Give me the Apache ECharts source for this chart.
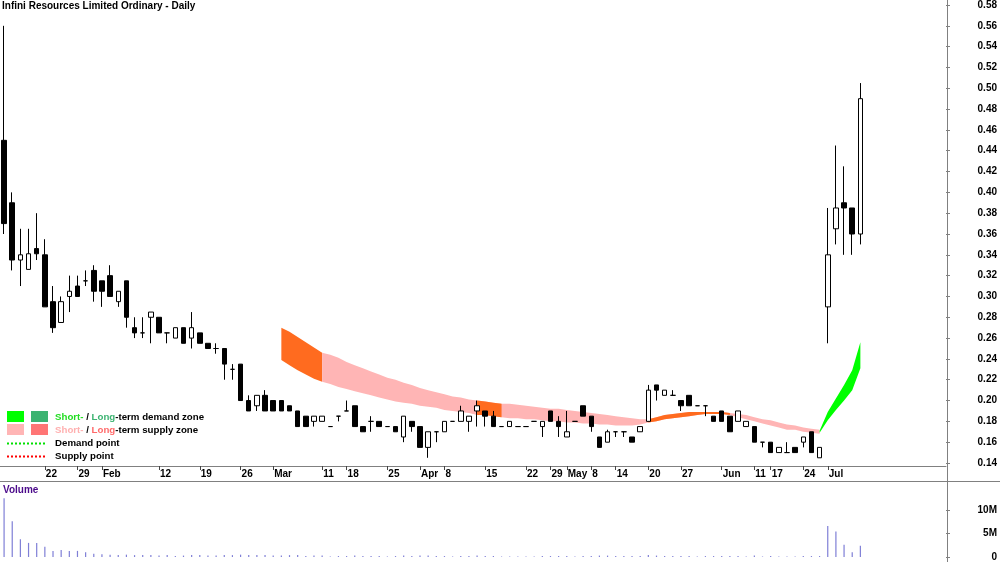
<!DOCTYPE html>
<html><head><meta charset="utf-8">
<script src="https://cdn.jsdelivr.net/npm/echarts@6/dist/echarts.min.js"></script>
<style>html,body{margin:0;padding:0;background:#fff}#c{width:1000px;height:562px}</style>
</head><body><div id="c"></div>
<script>
// ---------- data ----------
const title = 'Infini Resources Limited Ordinary - Daily';
const dates = [
 '01-15','01-16','01-17','01-18','01-19','01-22','01-23','01-24','01-25','01-29',
 '01-30','01-31','02-01','02-02','02-05','02-06','02-07','02-08','02-09','02-12',
 '02-13','02-14','02-15','02-16','02-19','02-20','02-21','02-22','02-23','02-26',
 '02-27','02-28','02-29','03-01','03-04','03-05','03-06','03-07','03-08','03-11',
 '03-12','03-13','03-18','03-19','03-20','03-21','03-22','03-25','03-26','03-27',
 '03-28','04-02','04-03','04-04','04-08','04-09','04-10','04-11','04-12','04-15',
 '04-16','04-17','04-18','04-19','04-22','04-23','04-24','04-29','04-30','05-01',
 '05-02','05-03','05-08','05-09','05-10','05-14','05-15','05-16','05-17','05-20',
 '05-21','05-22','05-23','05-27','05-28','05-29','05-30','05-31','06-03','06-04',
 '06-05','06-06','06-11','06-12','06-17','06-18','06-19','06-20','06-24','06-25',
 '06-26','07-01','07-02','07-03','07-04','07-05'
];
const blankSlots = ['07-08','07-09','07-10','07-11','07-12','07-15','07-16','07-17','07-18','07-19'];
const open = [
 0.45,0.39,0.335,0.326,0.346,0.34,0.295,0.275,0.30,0.31,
 0.315,0.325,0.315,0.32,0.295,0.315,0.27,0.265,0.28,0.28,
 0.265,0.26,0.27,0.26,0.265,0.255,0.25,0.25,0.23,0.235,
 0.20,0.195,0.205,0.20,0.20,0.195,0.19,0.185,0.18,0.18,
 0.175,0.185,0.19,0.195,0.175,0.18,0.18,0.175,0.175,0.165,
 0.18,0.175,0.155,0.17,0.17,0.18,0.18,0.18,0.19,0.19,
 0.185,0.175,0.175,0.175,0.175,0.18,0.175,0.19,0.18,0.165,
 0.18,0.195,0.185,0.165,0.16,0.17,0.17,0.165,0.17,0.18,
 0.215,0.205,0.205,0.20,0.205,0.195,0.195,0.185,0.19,0.185,
 0.18,0.175,0.175,0.16,0.16,0.15,0.15,0.155,0.16,0.17,
 0.145,0.29,0.365,0.39,0.385,0.36
];
const close = [
 0.37,0.335,0.34,0.341,0.341,0.29,0.27,0.295,0.305,0.30,
 0.315,0.305,0.305,0.30,0.305,0.28,0.265,0.265,0.285,0.265,
 0.265,0.27,0.255,0.27,0.255,0.25,0.25,0.235,0.23,0.20,
 0.19,0.205,0.19,0.19,0.19,0.19,0.175,0.175,0.185,0.185,
 0.175,0.185,0.19,0.175,0.17,0.18,0.175,0.175,0.17,0.185,
 0.175,0.155,0.17,0.17,0.18,0.18,0.19,0.185,0.195,0.185,
 0.175,0.175,0.18,0.175,0.175,0.18,0.18,0.18,0.175,0.17,
 0.18,0.185,0.175,0.155,0.17,0.17,0.17,0.16,0.175,0.21,
 0.21,0.21,0.205,0.195,0.195,0.195,0.195,0.18,0.18,0.17,
 0.19,0.18,0.16,0.16,0.15,0.155,0.15,0.15,0.165,0.15,
 0.155,0.34,0.385,0.385,0.36,0.49
];
const high = [
 0.56,0.40,0.365,0.365,0.38,0.355,0.31,0.30,0.32,0.32,
 0.325,0.33,0.315,0.33,0.305,0.315,0.28,0.28,0.285,0.28,
 0.265,0.27,0.27,0.285,0.265,0.255,0.255,0.25,0.235,0.235,
 0.205,0.205,0.21,0.20,0.20,0.195,0.19,0.185,0.185,0.185,
 0.175,0.185,0.20,0.195,0.175,0.185,0.18,0.175,0.175,0.185,
 0.18,0.175,0.17,0.17,0.18,0.18,0.195,0.185,0.20,0.19,
 0.19,0.175,0.18,0.175,0.175,0.18,0.18,0.19,0.185,0.19,
 0.18,0.195,0.185,0.165,0.172,0.17,0.17,0.165,0.175,0.215,
 0.215,0.21,0.21,0.20,0.205,0.195,0.195,0.185,0.19,0.185,
 0.19,0.18,0.175,0.16,0.16,0.155,0.16,0.155,0.165,0.17,
 0.155,0.385,0.445,0.425,0.385,0.505
];
const low = [
 0.36,0.325,0.31,0.326,0.335,0.29,0.265,0.275,0.285,0.30,
 0.31,0.295,0.29,0.30,0.29,0.27,0.26,0.26,0.255,0.265,
 0.255,0.26,0.255,0.25,0.255,0.25,0.245,0.22,0.22,0.20,
 0.19,0.19,0.19,0.19,0.19,0.19,0.175,0.175,0.175,0.18,
 0.175,0.18,0.19,0.175,0.17,0.17,0.175,0.175,0.17,0.16,
 0.17,0.155,0.145,0.16,0.17,0.18,0.18,0.17,0.175,0.175,
 0.175,0.175,0.175,0.175,0.175,0.18,0.165,0.18,0.165,0.165,
 0.18,0.185,0.17,0.155,0.16,0.165,0.165,0.16,0.17,0.18,
 0.20,0.205,0.205,0.19,0.195,0.195,0.185,0.18,0.18,0.17,
 0.18,0.175,0.16,0.155,0.15,0.15,0.15,0.15,0.155,0.15,
 0.145,0.255,0.35,0.34,0.34,0.35
];
const volumeM = [
 12.5,7.6,3.8,3.0,3.0,2.2,1.3,1.5,1.3,1.3,
 1.0,0.7,0.6,0.5,0.4,0.5,0.4,0.4,0.4,0.3,
 0.4,0.2,0.3,0.4,0.4,0.3,0.3,0.4,0.4,0.5,
 0.4,0.4,0.4,0.3,0.3,0.4,0.4,0.2,0.3,0.3,
 0.1,0.2,0.2,0.3,0.2,0.2,0.2,0.1,0.2,0.3,
 0.2,0.3,0.3,0.2,0.2,0.1,0.2,0.2,0.3,0.2,
 0.2,0.1,0.1,0.1,0.1,0.1,0.2,0.2,0.2,0.2,
 0.1,0.2,0.2,0.3,0.3,0.2,0.2,0.2,0.2,0.4,
 0.3,0.2,0.2,0.2,0.2,0.1,0.2,0.2,0.2,0.2,
 0.2,0.1,0.3,0.1,0.2,0.1,0.1,0.1,0.2,0.2,
 0.2,6.6,5.4,2.6,1.0,2.4
];
const tickLabels = [
 ['01-22','22'],['01-29','29'],['02-01','Feb'],['02-12','12'],['02-19','19'],['02-26','26'],
 ['03-01','Mar'],['03-11','11'],['03-18','18'],['03-25','25'],['04-02','Apr'],['04-08','8'],
 ['04-15','15'],['04-22','22'],['04-29','29'],['05-01','May'],['05-08','8'],['05-14','14'],
 ['05-20','20'],['05-27','27'],['06-03','Jun'],['06-11','11'],['06-17','17'],['06-24','24'],
 ['07-01','Jul']
];
const priceTicks = [0.14,0.58,0.02];   // min, max, step
const volumeTicks = [0,10,5];          // min, max, step (millions)
const supplyStart = '03-04';
const supplyTop = [
 0.270,0.266,0.261,0.256,0.251,0.246,0.244,0.241,0.237,0.234,
 0.231,0.228,0.225,0.222,0.220,0.217,0.215,0.212,0.210,0.208,
 0.206,0.204,0.203,0.201,0.200,0.199,0.198,0.197,0.197,0.196,
 0.195,0.194,0.193,0.192,0.192,0.191,0.190,0.189,0.188,0.187,
 0.186,0.185,0.184,0.183,0.182,0.182,0.184,0.186,0.187,0.188,
 0.189,0.189,0.189,0.189,0.189,0.188,0.187,0.186,0.184,0.182,
 0.181,0.179,0.177,0.176,0.174,0.173,0.172
];
const supplyBottom = [
 0.239,0.234,0.229,0.225,0.221,0.218,0.216,0.213,0.211,0.209,
 0.207,0.205,0.203,0.201,0.199,0.198,0.197,0.195,0.194,0.193,
 0.191,0.190,0.189,0.188,0.186,0.186,0.185,0.184,0.183,0.183,
 0.182,0.182,0.181,0.180,0.180,0.179,0.179,0.178,0.178,0.177,
 0.177,0.176,0.176,0.176,0.177,0.179,0.180,0.182,0.183,0.184,
 0.185,0.186,0.187,0.187,0.187,0.186,0.184,0.182,0.180,0.178,
 0.176,0.174,0.172,0.172,0.170,0.169,0.168
];
const supplySegments = [
 ['03-04','03-11','long'],['03-11','06-26','short'],['04-12','04-17','long'],['05-20','06-04','long']
];
const demandStart = '06-26';
const demandTop = [0.171,0.189,0.202,0.215,0.229,0.256];
const demandBottom = [0.169,0.181,0.191,0.200,0.210,0.231];

// ---------- build ----------
const FONT = '"Liberation Sans", Arial, sans-serif';
const cats = dates.concat(blankSlots);
const labelMap = {};
tickLabels.forEach(([d, t]) => labelMap[d] = t);
const kData = dates.map((d, i) => [open[i], close[i], low[i], high[i]]);
const volData = volumeM.map(v => v * 1e6);

const ZONE = { long: '#ff6b1f', short: '#ffb5b5', demand: '#00ff00' };

function bandSeries(startDate, top, bottom, from, to, color, key) {
  const s0 = cats.indexOf(startDate);
  const a = cats.indexOf(from), b = cats.indexOf(to);
  const base = cats.map(() => '-'), thick = cats.map(() => '-');
  for (let i = a; i <= b; i++) {
    const k = i - s0;
    base[i] = bottom[k];
    thick[i] = +(top[k] - bottom[k]).toFixed(4);
  }
  const common = { type: 'line', xAxisIndex: 0, yAxisIndex: 0, stack: key, symbol: 'none',
    silent: true, z: 1, animation: false, lineStyle: { width: 0, opacity: 0 } };
  return [
    Object.assign({}, common, { data: base }),
    Object.assign({}, common, { data: thick, areaStyle: { color: color, opacity: 1 } })
  ];
}
let bands = [];
supplySegments.forEach((s, i) => {
  bands = bands.concat(bandSeries(supplyStart, supplyTop, supplyBottom, s[0], s[1], ZONE[s[2]], 'sup' + i));
});
bands = bands.concat(bandSeries(demandStart, demandTop, demandBottom, demandStart, dates[dates.length - 1], ZONE.demand, 'dem'));

const chart = echarts.init(document.getElementById('c'), null, { renderer: 'canvas' });
const LF = 'bold 9.7px ' + FONT;
const txt = (s, x, y, extra) => Object.assign({ type: 'text', left: x, top: y, silent: true,
  style: Object.assign({ text: s, font: LF, fill: '#000' }, extra || {}) });

chart.setOption({
  animation: false,
  backgroundColor: '#fff',
  title: { text: title, left: 2, top: 1, padding: 0,
    textStyle: { fontFamily: FONT, fontSize: 10, fontWeight: 'bold', color: '#000' } },
  grid: [
    { left: -3, right: 53, top: 4, height: 459 },
    { left: -3, right: 53, top: 510, bottom: 2 }
  ],
  xAxis: [
    { type: 'category', data: cats, gridIndex: 0, boundaryGap: true, offset: 3,
      axisLine: { lineStyle: { color: '#808080', width: 1 } },
      axisTick: { show: true, alignWithLabel: true, length: 4, lineStyle: { color: '#444' },
        interval: (i, v) => labelMap[v] !== undefined },
      axisLabel: { interval: (i, v) => labelMap[v] !== undefined, formatter: v => labelMap[v] || '',
        align: 'left', padding: [0, 0, 0, 1], margin: 3, color: '#000',
        fontFamily: FONT, fontSize: 10, fontWeight: 'bold' },
      splitLine: { show: false } },
    { type: 'category', data: cats, gridIndex: 1, boundaryGap: true, show: false }
  ],
  yAxis: [
    { type: 'value', gridIndex: 0, position: 'right', min: priceTicks[0], max: priceTicks[1], interval: priceTicks[2],
      axisLine: { show: false }, splitLine: { show: false },
      axisTick: { show: true, length: 4, lineStyle: { color: '#808080' } },
      axisLabel: { align: 'right', margin: 51, color: '#000', fontFamily: FONT, fontSize: 10, fontWeight: 'bold',
        formatter: v => v.toFixed(2) } },
    { type: 'value', gridIndex: 1, position: 'right', min: volumeTicks[0] * 1e6, max: volumeTicks[1] * 1e6,
      interval: volumeTicks[2] * 1e6,
      axisLine: { show: false }, splitLine: { show: false },
      axisTick: { show: true, length: 4, lineStyle: { color: '#808080' } },
      axisLabel: { align: 'right', margin: 51, color: '#000', fontFamily: FONT, fontSize: 10, fontWeight: 'bold',
        formatter: v => v === 0 ? '0' : (v / 1e6) + 'M' } }
  ],
  series: bands.concat([
    { type: 'candlestick', xAxisIndex: 0, yAxisIndex: 0, data: kData, barWidth: 5, z: 5,
      itemStyle: { color: '#ffffff', color0: '#000000', borderColor: '#000000', borderColor0: '#000000',
        borderColorDoji: '#000000', borderWidth: 1 } },
    { type: 'bar', xAxisIndex: 1, yAxisIndex: 1, data: volData, barWidth: 1.2, clip: false,
      itemStyle: { color: '#7f7fd6' } }
  ]),
  graphic: [
    { type: 'line', silent: true, shape: { x1: 947.5, y1: 0, x2: 947.5, y2: 562 }, style: { stroke: '#808080', lineWidth: 1 } },
    { type: 'line', silent: true, shape: { x1: 0, y1: 481.5, x2: 1000, y2: 481.5 }, style: { stroke: '#808080', lineWidth: 1 } },
    txt('Volume', 3, 485, { fill: '#4b0a8a', font: 'bold 10px ' + FONT }),
    { type: 'rect', silent: true, shape: { x: 7, y: 411, width: 17, height: 11 }, style: { fill: '#00ff00' } },
    { type: 'rect', silent: true, shape: { x: 31, y: 411, width: 17, height: 11 }, style: { fill: '#3cb371' } },
    { type: 'rect', silent: true, shape: { x: 7, y: 424, width: 17, height: 11 }, style: { fill: '#ffb5b5' } },
    { type: 'rect', silent: true, shape: { x: 31, y: 424, width: 17, height: 11 }, style: { fill: '#ff7575' } },
    { type: 'line', silent: true, shape: { x1: 7, y1: 443.5, x2: 47, y2: 443.5 }, style: { stroke: '#00e000', lineWidth: 2, lineDash: [2, 2] } },
    { type: 'line', silent: true, shape: { x1: 7, y1: 456.5, x2: 47, y2: 456.5 }, style: { stroke: '#ff0000', lineWidth: 2, lineDash: [2, 2] } },
    { type: 'text', left: 55, top: 412, silent: true, style: {
      text: '{g|Short-} / {dg|Long}-term demand zone', font: LF, fill: '#000',
      rich: { g: { fill: '#22dd22', font: LF }, dg: { fill: '#3cb371', font: LF } } } },
    { type: 'text', left: 55, top: 425, silent: true, style: {
      text: '{p|Short-} / {r|Long}-term supply zone', font: LF, fill: '#000',
      rich: { p: { fill: '#ffb0b0', font: LF }, r: { fill: '#ff6a6a', font: LF } } } },
    txt('Demand point', 55, 438),
    txt('Supply point', 55, 451)
  ]
});
</script></body></html>
